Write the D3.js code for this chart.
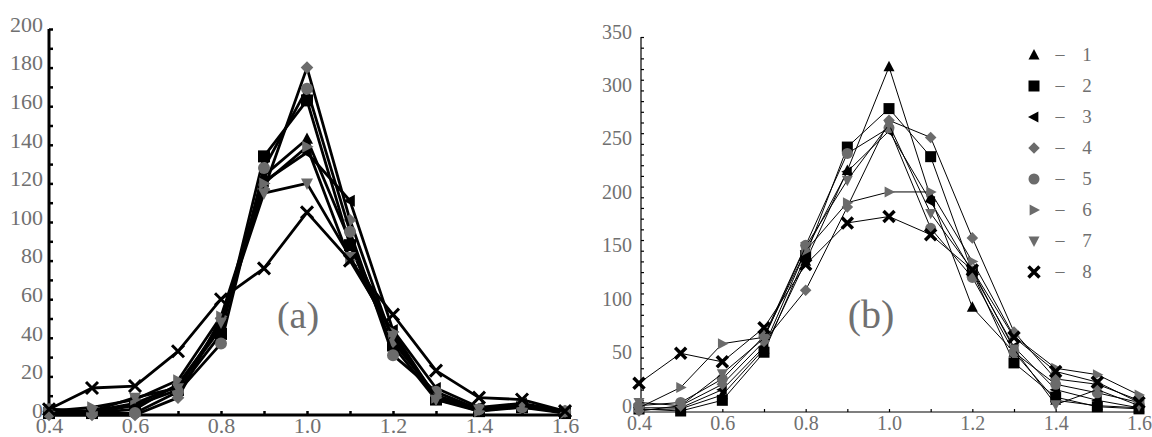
<!DOCTYPE html>
<html><head><meta charset="utf-8">
<script src="https://cdn.jsdelivr.net/npm/d3@7"></script>
<style>html,body{margin:0;padding:0;background:#fff;}svg{display:block;}
text{font-family:"Liberation Serif","DejaVu Serif",serif;}</style>
</head><body>
<svg id="c" width="1152" height="437"></svg>
<script>
const xs = [0.4,0.5,0.6,0.7,0.8,0.9,1.0,1.1,1.2,1.3,1.4,1.5,1.6];
const seriesNames = ["1","2","3","4","5","6","7","8"];
const seriesMarkers = ["triUp","square","triLeft","diamond","circle","triRight","triDown","cross"];
const seriesColors = ["#000","#000","#000","#6b6b6b","#6b6b6b","#6b6b6b","#6b6b6b","#000"];

// panel (a)
const a1 = [2,1,3,16,46,124,143,90,40,10,3,5,1];
const a2 = [1,1,5,13,42,134,163,88,36,8,2,4,1];
const a3 = [2,2,6,15,45,121,136,111,44,14,4,6,2];
const a4 = [0,0,0,9,50,117,180,101,38,10,3,5,2];
const a5 = [3,1,1,12,37,128,169,95,31,12,3,4,2];
const a6 = [2,4,8,18,51,120,139,80,43,9,2,5,1];
const a7 = [3,2,9,14,48,115,120,82,41,8,3,5,2];
const a8 = [3,14,15,33,60,76,105,80,52,23,9,8,2];
// panel (b)
const b1 = [1,2,15,58,140,225,322,200,97,55,10,5,3];
const b2 = [2,0,10,55,145,247,283,238,130,45,13,4,2];
const b3 = [3,3,20,60,150,224,262,196,130,60,20,10,3];
const b4 = [0,5,25,65,113,191,272,256,162,74,30,25,10];
const b5 = [5,8,30,70,155,241,265,171,125,55,25,17,8];
const b6 = [3,22,63,69,150,195,205,205,140,70,40,34,15];
const b7 = [8,5,35,68,154,216,268,185,132,58,6,20,5];
const b8 = [26,54,46,78,137,176,182,165,132,69,37,27,8];

const aTicksY = d3.range(0,201,10);
const aLabelsY = [0,20,40,60,80,100,120,140,160,180,200];
const bTicksY = d3.range(0,351,10);
const bLabelsY = [0,50,100,150,200,250,300,350];
const xTicks = [0.4,0.5,0.6,0.7,0.8,0.9,1.0,1.1,1.2,1.3,1.4,1.5,1.6];
const xLabels = [0.4,0.6,0.8,1.0,1.2,1.4,1.6];

const SERIF = '"Liberation Serif","DejaVu Serif",serif';
const svg = d3.select("#c");

function markerPath(type, s){
  const h = s/2;
  switch(type){
    case "triUp": return `M0,${-h*1.1}L${h},${h*0.8}L${-h},${h*0.8}Z`;
    case "triDown": return `M0,${h*1.1}L${h},${-h*0.8}L${-h},${-h*0.8}Z`;
    case "triLeft": return `M${-h*1.1},0L${h*0.8},${-h}L${h*0.8},${h}Z`;
    case "triRight": return `M${h*1.1},0L${-h*0.8},${-h}L${-h*0.8},${h}Z`;
    case "square": return `M${-h},${-h}H${h}V${h}H${-h}Z`;
    case "diamond": return `M0,${-h*1.05}L${h*1.05},0L0,${h*1.05}L${-h*1.05},0Z`;
    case "circle": return d3.symbol(d3.symbolCircle, Math.PI*h*h)();
    case "cross": return `M${-h},${-h}L${h},${h}M${h},${-h}L${-h},${h}`;
  }
}

function drawMarker(g, type, color, x, y, s, crossW){
  if(type === "cross"){
    g.append("path").attr("d", markerPath(type, s)).attr("transform",`translate(${x},${y})`)
      .attr("stroke", color).attr("stroke-width", crossW).attr("fill","none");
  } else {
    g.append("path").attr("d", markerPath(type, s)).attr("transform",`translate(${x},${y})`)
      .attr("fill", color);
  }
}

function panel(cfg){
  const x = d3.scaleLinear().domain([0.4,1.6]).range(cfg.xr);
  const y = d3.scaleLinear().domain([0,cfg.ymax]).range(cfg.yr);
  const g = svg.append("g");
  const ay = d3.axisLeft(y).tickValues(cfg.ticksY).tickSize(-cfg.tick)
    .tickFormat(d => cfg.labelsY.includes(d) ? d : "").tickPadding(cfg.padY);
  const gy = g.append("g").attr("transform",`translate(${cfg.xr[0]+cfg.axOffX},0)`).call(ay);
  const ax = d3.axisBottom(x).tickValues(xTicks).tickSize(-cfg.tick)
    .tickFormat(d => xLabels.some(v=>Math.abs(v-d)<1e-9) ? d.toFixed(1) : "").tickPadding(cfg.padX);
  const gx = g.append("g").attr("transform",`translate(0,${cfg.yr[0]+cfg.axOffY})`).call(ax);
  [gy,gx].forEach(gg=>{
    gg.attr("font-family", null).attr("font-size", null);
    gg.select(".domain").attr("stroke","#000").attr("stroke-width",cfg.axW);
    gg.selectAll(".tick line").attr("stroke","#000").attr("stroke-width",cfg.tickW);
    gg.selectAll(".tick text").attr("fill","#707070")
      .style("font-family",SERIF).style("font-size",cfg.fs+"px");
  });
  gy.selectAll(".tick text").attr("dy", cfg.dyY);
  gx.selectAll(".tick text").attr("dy", cfg.dyX);
  gy.select(".domain").attr("d", `M0,${cfg.yr[0]+cfg.axOffY}V${cfg.yr[1]}`);
  gx.select(".domain").attr("d", `M${cfg.xr[0]+cfg.axOffX},0H${cfg.xr[1]+3}`);

  const line = d3.line().x((d,i)=>x(xs[i])).y(d=>y(d));
  cfg.data.forEach((ser,k)=>{
    g.append("path").datum(ser).attr("d",line).attr("fill","none")
      .attr("stroke","#000").attr("stroke-width",cfg.lineW).attr("stroke-linejoin","round");
    ser.forEach((v,i)=>drawMarker(g, seriesMarkers[k], seriesColors[k], x(xs[i]), y(v), cfg.ms, cfg.crossW));
  });
  g.append("text").attr("x",cfg.lab[0]).attr("y",cfg.lab[1]).attr("text-anchor","middle")
    .style("font-family",SERIF).style("font-size",cfg.labFs+"px")
    .attr("fill","#707070").text(cfg.label);
  return {x,y,g};
}

panel({xr:[49,565], yr:[415,29], ymax:200, ticksY:aTicksY, labelsY:aLabelsY,
  axOffX:0, axOffY:0, tick:4, axW:3, tickW:2.5, padY:6, padX:5, dyY:"0.1em", dyX:"0.6em",
  fs:22, data:[a1,a2,a3,a4,a5,a6,a7,a8], lineW:2.8, ms:12, crossW:3,
  label:"(a)", lab:[298,328], labFs:38});

panel({xr:[639,1139], yr:[411,37], ymax:350, ticksY:bTicksY, labelsY:bLabelsY,
  axOffX:2, axOffY:1, tick:3, axW:1.2, tickW:1.2, padY:9, padX:6, dyY:"0.05em", dyX:"0.6em",
  fs:20, data:[b1,b2,b3,b4,b5,b6,b7,b8], lineW:1, ms:11, crossW:3.5,
  label:"(b)", lab:[871,328], labFs:40});

// legend
const lg = svg.append("g");
seriesNames.forEach((n,k)=>{
  const yy = 55 + k*31;
  drawMarker(lg, seriesMarkers[k], seriesColors[k], 1034, yy, 11, 3.5);
  lg.append("text").attr("x",1060).attr("y",yy).attr("dy","0.3em").attr("text-anchor","middle")
    .style("font-family",SERIF).style("font-size","18px").attr("fill","#707070").text("–");
  lg.append("text").attr("x",1087).attr("y",yy).attr("dy","0.33em").attr("text-anchor","middle")
    .style("font-family",SERIF).style("font-size","19px").attr("fill","#707070").text(n);
});
</script>
</body></html>
